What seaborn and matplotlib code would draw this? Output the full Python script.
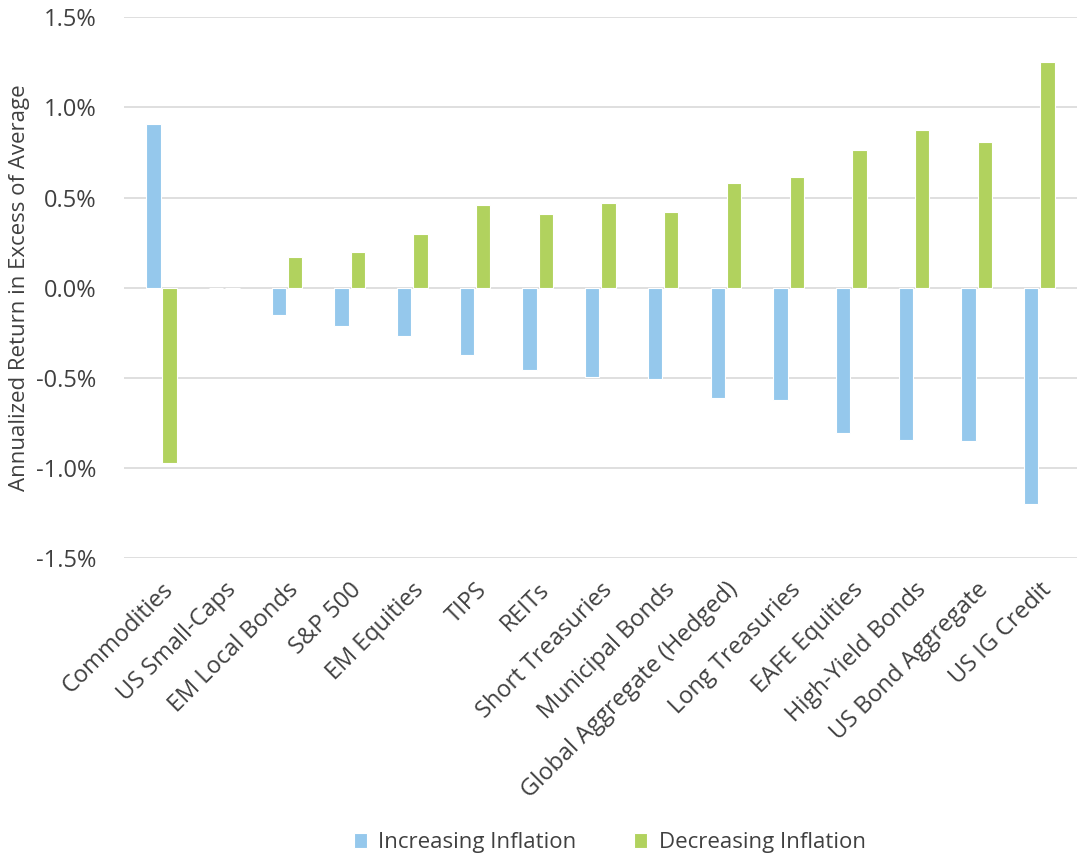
import matplotlib
matplotlib.use("Agg")
import matplotlib.pyplot as plt
import seaborn as sns
import pandas as pd
from matplotlib.ticker import FuncFormatter

categories = ["Commodities", "US Small-Caps", "EM Local Bonds", "S&P 500", "EM Equities",
              "TIPS", "REITs", "Short Treasuries", "Municipal Bonds",
              "Global Aggregate (Hedged)", "Long Treasuries", "EAFE Equities",
              "High-Yield Bonds", "US Bond Aggregate", "US IG Credit"]
increasing = [0.91, 0.0, -0.15, -0.21, -0.265, -0.37, -0.455, -0.495, -0.505,
              -0.61, -0.62, -0.805, -0.845, -0.85, -1.20]
decreasing = [-0.97, 0.0, 0.17, 0.20, 0.30, 0.46, 0.41, 0.47, 0.42,
              0.58, 0.615, 0.765, 0.875, 0.81, 1.25]
series_names = ["Increasing Inflation", "Decreasing Inflation"]
yticks = [-1.5, -1.0, -0.5, 0.0, 0.5, 1.0, 1.5]

df = pd.DataFrame({
    "category": categories * 2,
    "value": increasing + decreasing,
    "series": [series_names[0]] * len(categories) + [series_names[1]] * len(categories),
})

sns.set_theme(style="white")
plt.rcParams["font.family"] = ["Open Sans", "DejaVu Sans"]
text_color = "#404040"

fig = plt.figure(figsize=(10.77, 8.63), dpi=100)
ax = fig.add_axes([0.115, 0.353, 0.885, 0.627])

sns.barplot(data=df, x="category", y="value", hue="series", order=categories,
            hue_order=series_names, palette=["#95C8EC", "#B1D25E"], saturation=1,
            width=0.52, gap=0.12, edgecolor="white", linewidth=0.8, ax=ax,
            legend=True, errorbar=None)

ax.set_ylim(-1.5, 1.5)
ax.set_yticks(yticks)
ax.yaxis.set_major_formatter(FuncFormatter(lambda v, p: f"{v:.1f}%"))
ax.set_xlim(-0.6, len(categories) - 0.4)
ax.grid(axis="y", color="#d9d9d9", linewidth=1.2)
ax.set_axisbelow(True)
for s in ax.spines.values():
    s.set_visible(False)
ax.tick_params(axis="both", length=0, colors=text_color, labelsize=17)
ax.tick_params(axis="y", pad=20)
ax.tick_params(axis="x", pad=14)
ax.set_xlabel("")
ax.set_ylabel("Annualized Return in Excess of Average", fontsize=16, color=text_color, labelpad=4)
plt.setp(ax.get_xticklabels(), rotation=45, ha="right", rotation_mode="anchor")

handles, labels = ax.get_legend_handles_labels()
ax.legend_.remove()
fig.legend(handles, labels, loc="lower center", bbox_to_anchor=(0.566, -0.012), ncol=2,
           frameon=False, fontsize=16, handlelength=0.6, handleheight=0.6,
           handletextpad=0.5, columnspacing=2.6, labelcolor=text_color)

fig.savefig("out.png", dpi=100)
